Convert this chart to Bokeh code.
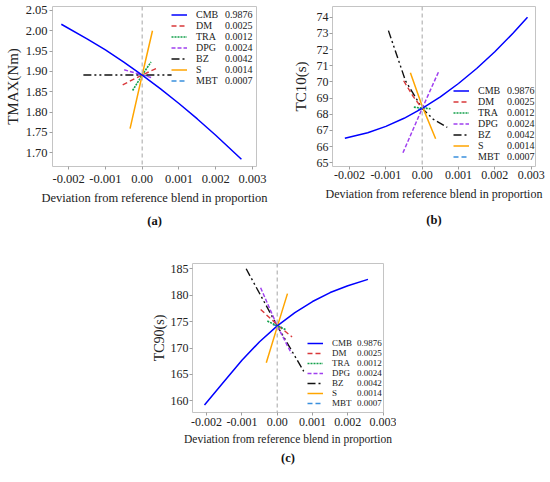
from bokeh.plotting import figure
from bokeh.models import Range1d, FixedTicker, PrintfTickFormatter, Span, Legend, LegendItem, Title, Spacer
from bokeh.layouts import column, row
from bokeh.embed import file_html
from bokeh.resources import INLINE

FONT = "Liberation Serif"

components = ["CMB", "DM", "TRA", "DPG", "BZ", "S", "MBT"]
proportions = ["0.9876", "0.0025", "0.0012", "0.0024", "0.0042", "0.0014", "0.0007"]
x_ticks = [-0.002, -0.001, 0.0, 0.001, 0.002, 0.003]

# ---------- (a) TMAX(Nm) ----------
tmax_cmb_x = [-0.0022, -0.0015, -0.001, -0.0005, 0.0, 0.0005, 0.001, 0.0015, 0.002, 0.0027]
tmax_cmb_y = [2.016, 1.980, 1.953, 1.923, 1.891, 1.857, 1.821, 1.783, 1.743, 1.684]
tmax_dm_x = [-0.00053, 0.0, 0.00038]
tmax_dm_y = [1.867, 1.891, 1.907]
tmax_tra_x = [-0.00026, 0.0, 0.00024]
tmax_tra_y = [1.853, 1.891, 1.923]
tmax_dpg_x = [-0.00049, 0.0, 0.00029]
tmax_dpg_y = [1.904, 1.891, 1.884]
tmax_bz_x = [-0.0016, 0.0, 0.0008]
tmax_bz_y = [1.891, 1.891, 1.891]
tmax_s_x = [-0.00033, 0.0, 0.00028]
tmax_s_y = [1.759, 1.891, 2.000]
tmax_mbt_x = [-0.00015, 0.0, 0.00015]
tmax_mbt_y = [1.893, 1.891, 1.889]
tmax_yticks = [1.70, 1.75, 1.80, 1.85, 1.90, 1.95, 2.00, 2.05]

# ---------- (b) TC10(s) ----------
tc10_cmb_x = [-0.00213, -0.0015, -0.001, -0.0005, 0.0, 0.0005, 0.001, 0.0015, 0.002, 0.0025, 0.0029]
tc10_cmb_y = [66.52, 66.86, 67.25, 67.75, 68.36, 69.07, 69.90, 70.83, 71.86, 73.01, 74.00]
tc10_dm_x = [-0.00051, -0.00025, 0.0]
tc10_dm_y = [70.07, 69.10, 68.36]
tc10_tra_x = [-0.00023, 0.0, 0.00023]
tc10_tra_y = [68.44, 68.38, 68.34]
tc10_dpg_x = [-0.00053, 0.0, 0.00046]
tc10_dpg_y = [65.62, 68.36, 70.67]
tc10_bz_x = [-0.00093, -0.00046, 0.0, 0.0003, 0.00069]
tc10_bz_y = [73.17, 70.07, 68.36, 67.70, 67.19]
tc10_s_x = [-0.000325, 0.0, 0.00037]
tc10_s_y = [70.56, 68.50, 66.48]
tc10_mbt_x = [-0.00012, 0.0, 0.00012]
tc10_mbt_y = [68.30, 68.36, 68.42]
tc10_yticks = [65, 66, 67, 68, 69, 70, 71, 72, 73, 74]

# ---------- (c) TC90(s) ----------
tc90_cmb_x = [-0.00206, -0.0015, -0.001, -0.0005, 0.0, 0.0005, 0.001, 0.0015, 0.002, 0.00257]
tc90_cmb_y = [159.2, 163.7, 167.7, 171.2, 174.2, 176.7, 178.8, 180.5, 181.8, 183.0]
tc90_dm_x = [-0.00047, 0.0, 0.00042]
tc90_dm_y = [177.3, 174.4, 172.1]
tc90_tra_x = [-0.00028, 0.0, 0.00024]
tc90_tra_y = [175.1, 174.2, 173.5]
tc90_dpg_x = [-0.00047, 0.0, 0.0004]
tc90_dpg_y = [181.4, 174.2, 169.0]
tc90_bz_x = [-0.00088, 0.0, 0.00075]
tc90_bz_y = [185.0, 174.2, 165.6]
tc90_s_x = [-0.00031, 0.0, 0.00029]
tc90_s_y = [167.2, 174.0, 180.3]
tc90_mbt_x = [-0.00012, 0.0, 0.00012]
tc90_mbt_y = [174.4, 174.2, 174.0]
tc90_yticks = [160, 165, 170, 175, 180, 185]

styles = {
    "CMB": dict(color="#0000FF", dash="solid", width=1.5),
    "DM": dict(color="#D9383A", dash="5 3", width=1.4),
    "TRA": dict(color="#12A04A", dash="2 1", width=1.6),
    "DPG": dict(color="#A040F0", dash="4 2", width=1.5),
    "BZ": dict(color="#111111", dash="8 3 2 3 2 3", width=1.4),
    "S": dict(color="#FFA500", dash="solid", width=1.5),
    "MBT": dict(color="#3A90DD", dash="5 3", width=1.5),
}
draw_order = ["MBT", "BZ", "DPG", "DM", "TRA", "S", "CMB"]


def make_panel(width, height, borders, xr, yr, yticks, yfmt, ylabel, series, caption,
               leg_x, leg_bottom, val_dx, row_h, leg_font, tick_font, xlab_font, ylab_font,
               lab_std, axlab_std, cap_std, cap_off, ylab_std, ytick_std):
    l, r, t, b = borders
    p = figure(width=width, height=height, output_backend="svg", toolbar_location=None,
               x_range=Range1d(*xr), y_range=Range1d(*yr), title=None,
               min_border_left=l, min_border_right=r, min_border_top=t, min_border_bottom=b)
    p.xgrid.visible = False
    p.ygrid.visible = False
    p.outline_line_color = "#c4c4c4"
    p.outline_line_width = 1
    for ax in (p.xaxis[0], p.yaxis[0]):
        ax.axis_line_color = None
        ax.major_tick_line_color = "#a0a0a0"
        ax.major_tick_out = 3
        ax.major_tick_in = 0
        ax.minor_tick_line_color = None
        ax.major_label_text_font = FONT
        ax.major_label_text_font_size = tick_font
        ax.major_label_text_color = "#222222"
        ax.axis_label_text_font = FONT
        ax.axis_label_text_font_style = "normal"
        ax.axis_label_text_color = "#222222"
    p.xaxis.ticker = FixedTicker(ticks=x_ticks)
    p.xaxis.formatter = PrintfTickFormatter(format="%.3f")
    p.xaxis.major_label_overrides = {0: "0.00"}
    p.xaxis.major_label_standoff = lab_std
    p.xaxis.axis_label = "Deviation from reference blend in proportion"
    p.xaxis.axis_label_text_font_size = xlab_font
    p.xaxis.axis_label_standoff = axlab_std
    p.yaxis.ticker = FixedTicker(ticks=yticks)
    p.yaxis.formatter = PrintfTickFormatter(format=yfmt)
    p.yaxis.major_label_standoff = ytick_std
    p.yaxis.axis_label = ylabel
    p.yaxis.axis_label_text_font_size = ylab_font
    p.yaxis.axis_label_standoff = ylab_std

    p.add_layout(Span(location=0, dimension="height", line_color="#b4b4b4",
                      line_dash="4 3", line_width=1.2))

    rends = {}
    for name in draw_order:
        xs, ys = series[name]
        st = styles[name]
        rends[name] = p.line(xs, ys, line_color=st["color"], line_dash=st["dash"],
                             line_width=st["width"])

    common = dict(border_line_color=None, background_fill_alpha=0, padding=0, margin=0,
                  spacing=0, label_text_font=FONT, label_text_font_size=leg_font,
                  label_text_color="#222222", label_height=row_h, glyph_height=row_h)
    leg_names = Legend(items=[LegendItem(label=n, renderers=[rends[n]]) for n in components],
                       location=(leg_x, leg_bottom), glyph_width=16, label_standoff=9, **common)
    leg_vals = Legend(items=[LegendItem(label=v, renderers=[rends[n]])
                             for n, v in zip(components, proportions)],
                      location=(leg_x + val_dx, leg_bottom), glyph_width=0, label_standoff=0,
                      **common)
    p.add_layout(leg_names, "center")
    p.add_layout(leg_vals, "center")

    p.add_layout(Title(text=caption, align="center", text_font=FONT, text_font_size="12.5px",
                       text_font_style="bold", text_color="#111111", standoff=cap_std,
                       offset=cap_off), "below")
    return p


series_a = {"CMB": (tmax_cmb_x, tmax_cmb_y), "DM": (tmax_dm_x, tmax_dm_y),
            "TRA": (tmax_tra_x, tmax_tra_y), "DPG": (tmax_dpg_x, tmax_dpg_y),
            "BZ": (tmax_bz_x, tmax_bz_y), "S": (tmax_s_x, tmax_s_y),
            "MBT": (tmax_mbt_x, tmax_mbt_y)}
series_b = {"CMB": (tc10_cmb_x, tc10_cmb_y), "DM": (tc10_dm_x, tc10_dm_y),
            "TRA": (tc10_tra_x, tc10_tra_y), "DPG": (tc10_dpg_x, tc10_dpg_y),
            "BZ": (tc10_bz_x, tc10_bz_y), "S": (tc10_s_x, tc10_s_y),
            "MBT": (tc10_mbt_x, tc10_mbt_y)}
series_c = {"CMB": (tc90_cmb_x, tc90_cmb_y), "DM": (tc90_dm_x, tc90_dm_y),
            "TRA": (tc90_tra_x, tc90_tra_y), "DPG": (tc90_dpg_x, tc90_dpg_y),
            "BZ": (tc90_bz_x, tc90_bz_y), "S": (tc90_s_x, tc90_s_y),
            "MBT": (tc90_mbt_x, tc90_mbt_y)}

pa = make_panel(281, 240, (52, 25, 6, 70), (-0.00244, 0.00311), (1.666, 2.0596),
                tmax_yticks, "%.2f", "TMAX(Nm)", series_a, "(a)",
                leg_x=119, leg_bottom=80, val_dx=54, row_h=11, leg_font="10px",
                tick_font="12.5px", xlab_font="12.5px", ylab_font="15px",
                lab_std=5, axlab_std=5, cap_std=8, cap_off=-17, ylab_std=2, ytick_std=2)
pb = make_panel(269, 240, (51, 15, 5, 74), (-0.00247, 0.00312), (64.77, 74.66),
                tc10_yticks, "%d", "TC10(s)", series_b, "(b)",
                leg_x=121, leg_bottom=4, val_dx=54, row_h=11, leg_font="10px",
                tick_font="12px", xlab_font="12px", ylab_font="15px",
                lab_std=1, axlab_std=5, cap_std=15, cap_off=0, ylab_std=5, ytick_std=1)
pc = make_panel(260, 242, (56, 13, 23, 70), (-0.0024, 0.00301), (157.8, 186.0),
                tc90_yticks, "%d", "TC90(s)", series_c, "(c)",
                leg_x=115, leg_bottom=4, val_dx=50, row_h=10, leg_font="9px",
                tick_font="12px", xlab_font="11.5px", ylab_font="14px",
                lab_std=2, axlab_std=4, cap_std=2, cap_off=0, ylab_std=1, ytick_std=1)

layout = column(row(pa, pb), row(Spacer(width=136, height=242), pc))

open("out.html", "w").write(file_html(layout, INLINE))
